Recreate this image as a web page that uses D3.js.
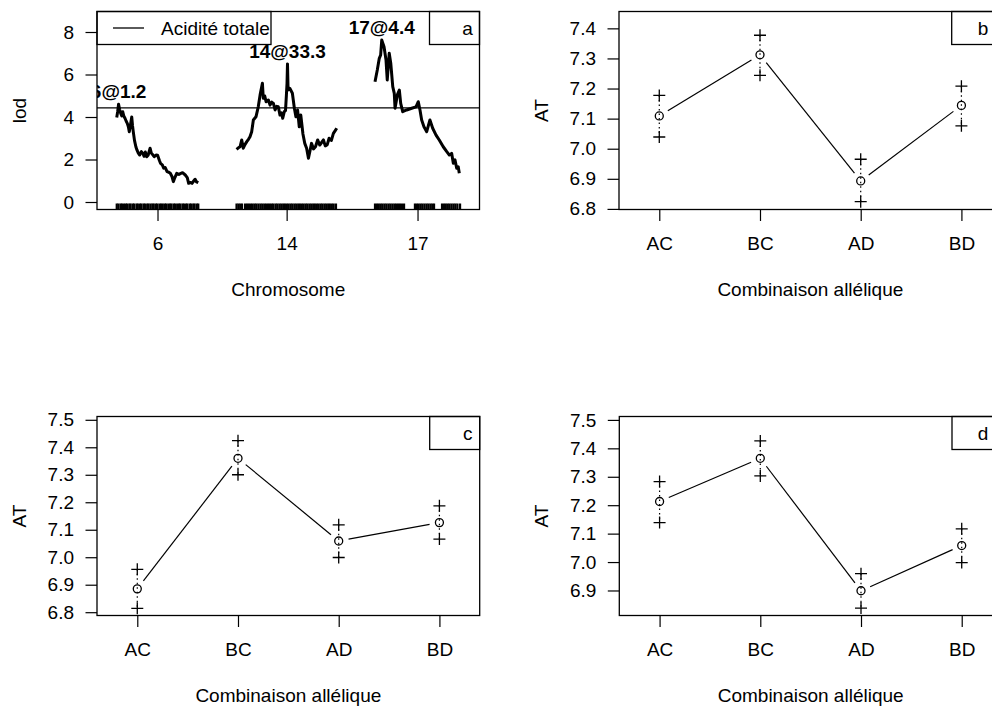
<!DOCTYPE html>
<html><head><meta charset="utf-8">
<script src="https://cdn.jsdelivr.net/npm/d3@7"></script>
<style>
body{margin:0;background:#fff}
svg{display:block}
text{font-family:"Liberation Sans",Arial,Helvetica,sans-serif;fill:#000}
</style>
</head><body>
<svg id="chart" width="992" height="707"></svg>
<script>
// ---------------- DATA ----------------
// Panel a : LOD profiles (position in cM within chromosome, LOD)
const chromosomes = ["6", "14", "17"];
const chrLengths = [53.3, 65.5, 55.6];
const lod6 = [[0,3.98],[0.6,4.25],[1.2,4.6],[1.9,4.35],[2.6,4.17],[3.3,4.05],[3.9,4.25],[4.6,4.05],[5.4,3.94],[6.2,3.8],[6.9,3.7],[7.6,3.54],[8.2,3.31],[8.9,3.6],[9.8,4.0],[10.3,3.6],[10.8,3.31],[11.6,2.9],[12.5,2.6],[13.2,2.45],[14.1,2.3],[15.0,2.21],[16.1,2.37],[17.1,2.29],[17.9,2.15],[18.7,2.35],[19.6,2.13],[20.5,2.2],[21.8,2.53],[22.6,2.3],[23.7,2.21],[24.5,2.13],[25.7,2.21],[26.7,2.2],[27.9,1.95],[28.6,1.82],[29.8,1.75],[30.7,1.59],[31.7,1.62],[32.9,1.43],[34.0,1.4],[35.0,1.35],[36.1,1.2],[37.0,0.96],[38.0,1.15],[39.2,1.35],[40.6,1.3],[41.9,1.35],[43.0,1.38],[44.8,1.27],[46.1,1.15],[47.0,0.88],[48.4,0.92],[49.2,0.88],[50.4,1.0],[51.2,1.07],[52.1,0.95],[53.3,0.91]];
const lod14 = [[0,2.48],[1.2,2.55],[2.3,2.6],[3.4,2.92],[4.4,2.53],[5.5,2.7],[6.7,2.84],[7.8,2.95],[8.8,3.07],[9.9,3.31],[11.0,3.86],[12.7,4.01],[14.2,4.48],[15.4,5.04],[16.9,5.59],[17.5,4.88],[18.4,5.0],[19.3,4.72],[20.8,4.8],[21.9,4.56],[23.0,4.7],[24.1,4.64],[25.2,4.33],[26.3,4.5],[27.3,4.48],[28.4,4.09],[29.3,4.2],[30.2,3.94],[31.2,4.25],[32.0,4.3],[32.6,5.04],[33.0,5.59],[33.3,6.5],[33.7,5.27],[34.8,5.35],[36.5,5.12],[37.8,4.41],[38.8,4.01],[39.9,4.33],[41.0,3.54],[42.0,4.09],[43.4,3.2],[44.6,2.76],[45.8,2.53],[47.0,2.06],[48.0,2.4],[49.0,2.76],[50.3,2.5],[51.6,2.6],[53.0,2.92],[54.4,2.68],[55.6,2.8],[56.8,2.92],[58.0,2.64],[59.3,2.7],[60.5,3.0],[62.0,2.9],[63.3,3.23],[64.4,3.35],[65.5,3.47]];
const lod17 = [[0,5.66],[1.5,6.21],[2.8,6.76],[3.7,6.92],[4.4,7.62],[5.9,7.31],[7.2,6.68],[8.0,5.74],[9.3,7.0],[10.3,6.53],[11.6,5.43],[12.6,5.11],[13.1,4.41],[14.6,5.04],[15.9,5.27],[16.8,4.64],[18.1,4.25],[20.7,4.33],[24.0,4.41],[26.8,4.48],[28.3,4.72],[29.4,4.33],[30.5,3.86],[32.0,3.54],[33.8,3.31],[35.9,3.86],[37.7,3.47],[39.9,3.15],[42.0,2.92],[44.6,2.6],[46.9,2.37],[48.6,2.21],[50.1,2.29],[51.2,1.82],[52.3,1.98],[53.4,1.59],[54.4,1.66],[55.1,1.35]];
const markers6 = [0,1.1,2.5,3.4,4.7,5.9,6.8,8.2,9.1,10.5,11.4,12.9,13.8,15.2,16.1,17.5,18.4,19.9,20.8,22.1,23.3,24.2,25.6,26.5,27.9,29.0,30.1,31.4,32.3,33.7,34.9,35.8,37.2,38.1,39.5,40.7,41.6,43.0,43.9,45.3,46.2,47.7,48.6,50.0,50.9,52.3,53.3];
const markers14 = [0,1.2,2.4,3.6,5.6,6.9,8.1,9.4,10.6,11.9,13.0,14.3,15.6,16.8,18.1,19.3,20.6,21.8,23.1,24.2,25.6,26.7,28.0,29.2,30.5,31.6,32.9,34.1,35.4,36.5,37.8,39.0,40.3,41.4,42.7,43.9,45.2,46.3,47.6,48.8,50.1,51.2,52.5,53.7,55.0,56.1,57.4,58.6,59.9,61.0,62.3,63.5,65.0];
const markers17 = [0,1.3,2.5,3.8,5.0,6.3,7.5,8.8,10.0,11.3,12.6,13.8,15.1,16.3,17.6,19.0,26.1,27.4,28.6,29.9,31.1,32.4,33.7,34.9,36.2,37.4,38.6,43.8,45.1,46.3,47.6,48.8,50.1,51.4,52.6,53.9,55.6];
const lodThreshold = 4.43;
const lodTicks = [0, 2, 4, 6, 8];
const legendLabel = "Acidité totale";

// Panels b, c, d : allelic combination effects
const genotypes = ["AC", "BC", "AD", "BD"];
const meanB = [7.109, 7.312, 6.893, 7.144];
const upB   = [7.177, 7.377, 6.965, 7.208];
const loB   = [7.039, 7.244, 6.824, 7.076];
const meanC = [6.885, 7.360, 7.059, 7.126];
const upC   = [6.956, 7.424, 7.118, 7.187];
const loC   = [6.814, 7.300, 6.999, 7.066];
const meanD = [7.213, 7.365, 6.899, 7.058];
const upD   = [7.283, 7.426, 6.959, 7.117];
const loD   = [7.139, 7.303, 6.838, 6.998];
const ticksB = ["6.8","6.9","7.0","7.1","7.2","7.3","7.4"];
const ticksC = ["6.8","6.9","7.0","7.1","7.2","7.3","7.4","7.5"];
const ticksD = ["6.9","7.0","7.1","7.2","7.3","7.4","7.5"];

// ---------------- DRAWING ----------------
const svg = d3.select("#chart");
const FS = 19;
const GAP = 25;
const W = 992;

function styleAxis(g) {
  g.select(".domain").remove();
  g.selectAll(".tick line").attr("stroke", "#000").attr("stroke-width", 1.2);
  g.selectAll("text").attr("font-size", FS).attr("font-family", '"Liberation Sans",Arial,sans-serif').attr("fill", "#000");
}

function box(g, x0, y0, x1, y1) {
  g.append("rect").attr("x", x0).attr("y", y0).attr("width", x1 - x0).attr("height", y1 - y0)
    .attr("fill", "none").attr("stroke", "#000").attr("stroke-width", 1.3);
}

function letterBox(g, x1, y0, letter) {
  g.append("rect").attr("x", x1 - 50).attr("y", y0).attr("width", 50).attr("height", 33)
    .attr("fill", "#fff").attr("stroke", "#000").attr("stroke-width", 1.3);
  // keep the letter inside the visible window
  const cx = Math.min(x1 - 12, W - 9);
  g.append("text").attr("x", cx).attr("y", y0 + 16.5).attr("dy", "0.35em")
    .attr("text-anchor", "middle").attr("font-size", FS).text(letter);
}

// ----- Panel a -----
(function () {
  const L = 97, R = 479.5, T = 11.5, B = 209.5;
  const offsets = [];
  let acc = 0;
  chrLengths.forEach((len) => { offsets.push(acc); acc += len + GAP; });
  const x = d3.scaleLinear().domain([-12.9, 237.1]).range([L, R]);
  const y = d3.scaleLinear().domain([-0.353, 8.965]).range([B, T]);
  const g = svg.append("g");

  svg.append("defs").append("clipPath").attr("id", "clipA")
    .append("rect").attr("x", L).attr("y", T).attr("width", R - L).attr("height", B - T);
  const pg = g.append("g").attr("clip-path", "url(#clipA)");

  const profiles = [lod6, lod14, lod17];
  const markerSets = [markers6, markers14, markers17];
  const line = d3.line().x(d => d[0]).y(d => d[1]);

  pg.append("line").attr("x1", L).attr("x2", R).attr("y1", y(lodThreshold)).attr("y2", y(lodThreshold))
    .attr("stroke", "#000").attr("stroke-width", 1.3);

  profiles.forEach((prof, i) => {
    const pts = prof.map(d => [x(offsets[i] + d[0]), y(d[1])]);
    pg.append("path").attr("d", line(pts)).attr("fill", "none").attr("stroke", "#000")
      .attr("stroke-width", 3).attr("stroke-linejoin", "round");
    markerSets[i].forEach(m => {
      pg.append("line").attr("x1", x(offsets[i] + m)).attr("x2", x(offsets[i] + m))
        .attr("y1", B).attr("y2", B - 6).attr("stroke", "#000").attr("stroke-width", 2.2);
    });
    const peak = prof.reduce((a, b) => (b[1] > a[1] ? b : a));
    pg.append("text").attr("x", x(offsets[i] + peak[0])).attr("y", y(peak[1]) - 6)
      .attr("text-anchor", "middle").attr("font-size", FS).attr("font-weight", "bold")
      .text(chromosomes[i] + "@" + peak[0]);
  });

  g.append("rect").attr("x", L).attr("y", T).attr("width", 174).attr("height", 33)
    .attr("fill", "#fff").attr("stroke", "#000").attr("stroke-width", 1.3);
  g.append("line").attr("x1", 113).attr("x2", 144).attr("y1", T + 16.5).attr("y2", T + 16.5)
    .attr("stroke", "#000").attr("stroke-width", 1.3);
  g.append("text").attr("x", 161).attr("y", T + 16.5).attr("dy", "0.35em").attr("font-size", FS).text(legendLabel);
  letterBox(g, R, T, "a");

  box(g, L, T, R, B);

  const ya = g.append("g").attr("transform", `translate(${L},0)`)
    .call(d3.axisLeft(y).tickValues(lodTicks).tickSize(11.5).tickPadding(11.5).tickFormat(d3.format("d")));
  styleAxis(ya);
  const mids = chrLengths.map((len, i) => offsets[i] + len / 2);
  const xa = g.append("g").attr("transform", `translate(0,${B})`)
    .call(d3.axisBottom(x).tickValues(mids).tickSize(11.5).tickPadding(16).tickFormat((d, i) => chromosomes[i]));
  styleAxis(xa);

  g.append("text").attr("x", (L + R) / 2).attr("y", B + 86).attr("text-anchor", "middle")
    .attr("font-size", FS).text("Chromosome");
  g.append("text").attr("transform", `translate(${L - 71},${(T + B) / 2}) rotate(-90)`)
    .attr("text-anchor", "middle").attr("font-size", FS).text("lod");
})();

// ----- Effect panels -----
function effectPanel(L, T, B, yDomain, tickLabels, means, ups, los, letter) {
  const R = L + 382.7;
  const g = svg.append("g");
  const x = d3.scaleLinear().domain([0.6, 4.4]).range([L, R]);
  const y = d3.scaleLinear().domain(yDomain).range([B, T]);
  const idx = genotypes.map((d, i) => i + 1);

  idx.forEach((k, i) => {
    g.append("line").attr("x1", x(k)).attr("x2", x(k)).attr("y1", y(ups[i])).attr("y2", y(los[i]))
      .attr("stroke", "#000").attr("stroke-width", 1.2).attr("stroke-dasharray", "1.5,3");
  });
  for (let i = 0; i < means.length - 1; i++) {
    const x1 = x(idx[i]), y1 = y(means[i]), x2 = x(idx[i + 1]), y2 = y(means[i + 1]);
    const len = Math.hypot(x2 - x1, y2 - y1), ux = (x2 - x1) / len, uy = (y2 - y1) / len;
    const gap = 10;
    g.append("line").attr("x1", x1 + ux * gap).attr("y1", y1 + uy * gap)
      .attr("x2", x2 - ux * gap).attr("y2", y2 - uy * gap)
      .attr("stroke", "#000").attr("stroke-width", 1.2);
  }
  const plus = "M-6,0H6M0,-6V6";
  idx.forEach((k, i) => {
    [ups[i], los[i]].forEach(v => {
      g.append("path").attr("d", plus).attr("transform", `translate(${x(k)},${y(v)})`)
        .attr("stroke", "#000").attr("stroke-width", 1.3).attr("fill", "none");
    });
    g.append("circle").attr("cx", x(k)).attr("cy", y(means[i])).attr("r", 4)
      .attr("fill", "none").attr("stroke", "#000").attr("stroke-width", 1.3);
  });

  letterBox(g, R, T, letter);
  box(g, L, T, R, B);

  const ya = g.append("g").attr("transform", `translate(${L},0)`)
    .call(d3.axisLeft(y).tickValues(tickLabels.map(Number)).tickSize(11.5).tickPadding(11.5).tickFormat((d, i) => tickLabels[i]));
  styleAxis(ya);
  const xa = g.append("g").attr("transform", `translate(0,${B})`)
    .call(d3.axisBottom(x).tickValues(idx).tickSize(11.5).tickPadding(16).tickFormat((d, i) => genotypes[i]));
  styleAxis(xa);

  g.append("text").attr("x", (L + R) / 2).attr("y", B + 86).attr("text-anchor", "middle")
    .attr("font-size", FS).text("Combinaison allélique");
  g.append("text").attr("transform", `translate(${L - 71},${(T + B) / 2}) rotate(-90)`)
    .attr("text-anchor", "middle").attr("font-size", FS).text("AT");
}

effectPanel(619, 11.5, 209.5, [6.798, 7.456], ticksB, meanB, upB, loB, "b");
effectPanel(97, 416.5, 615.5, [6.788, 7.512], ticksC, meanC, upC, loC, "c");
effectPanel(619.3, 416.5, 615.5, [6.812, 7.512], ticksD, meanD, upD, loD, "d");
</script>
</body></html>
